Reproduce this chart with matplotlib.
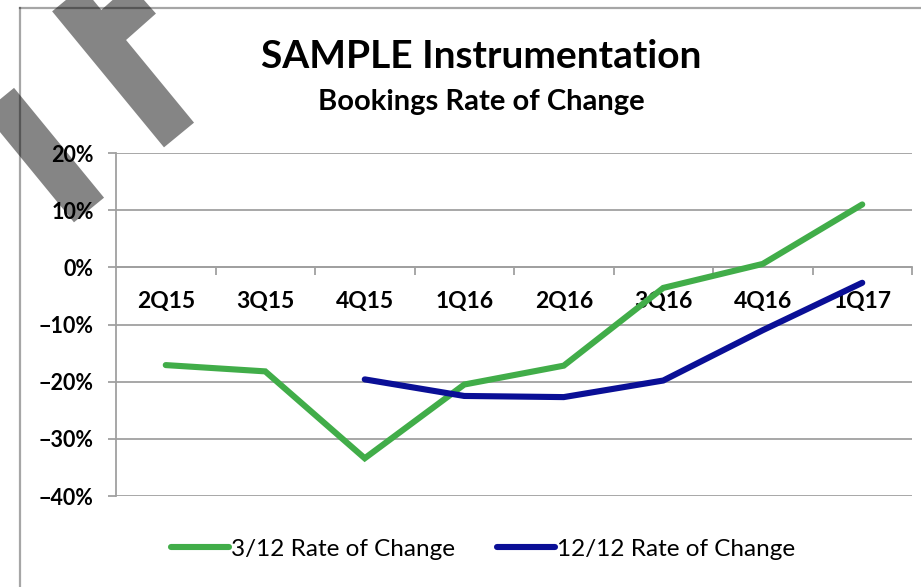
import matplotlib
matplotlib.use("Agg")
import matplotlib.pyplot as plt
import numpy as np
from matplotlib.ticker import PercentFormatter, FixedLocator
from matplotlib.lines import Line2D

categories = ["2Q15", "3Q15", "4Q15", "1Q16", "2Q16", "3Q16", "4Q16", "1Q17"]
rate_3_12 = [-17.1, -18.2, -33.4, -20.5, -17.2, -3.6, 0.6, 11.0]
rate_12_12 = [np.nan, np.nan, -19.6, -22.5, -22.7, -19.8, -11.0, -2.7]
series_names = ["3/12 Rate of Change", "12/12 Rate of Change"]
y_ticks = [-40, -30, -20, -10, 0, 10, 20]

GREEN = "#41AD49"
BLUE = "#0A0F96"
GRID = "#a0a0a0"
FONT = "Lato"

W, H = 921, 587
fig = plt.figure(figsize=(W / 100, H / 100), dpi=100)
fig.patch.set_facecolor("white")

def fx(px):
    return px / W

def fy(py):
    return 1 - py / H

# watermark strokes (opaque grey)
wm = dict(color="#858585", lw=28, solid_capstyle="butt", zorder=0)
fig.add_artist(Line2D([fx(40), fx(179)], [fy(-34), fy(135)], **wm))
fig.add_artist(Line2D([fx(99), fx(160)], [fy(38), fy(-16)], **wm))
fig.add_artist(Line2D([fx(-20), fx(89)], [fy(77), fy(210)], **wm))

# chart frame border lines (semi-transparent so they darken over the watermark)
fig.add_artist(Line2D([fx(20), fx(20)], [fy(8), fy(590)], color="black", alpha=0.35, lw=1.6, zorder=1))
fig.add_artist(Line2D([fx(20), fx(925)], [fy(8), fy(8)], color="black", alpha=0.35, lw=1.6, zorder=1))

ax = fig.add_axes([fx(116), fy(496), fx(912) - fx(116), fy(153) - fy(496)])
ax.set_facecolor("none")
x = np.arange(len(categories))
ax.plot(x, rate_3_12, color=GREEN, lw=4.4, solid_capstyle="round", solid_joinstyle="miter", zorder=3)
ax.plot(x, rate_12_12, color=BLUE, lw=4.4, solid_capstyle="round", solid_joinstyle="miter", zorder=3)

ax.set_xlim(-0.5, len(categories) - 0.5)
ax.set_ylim(-40, 20)
ax.yaxis.set_major_locator(FixedLocator(y_ticks))
ax.yaxis.set_major_formatter(PercentFormatter(decimals=0))
ax.grid(axis="y", color=GRID, lw=1.3)
ax.set_axisbelow(True)

for s in ["top", "right"]:
    ax.spines[s].set_visible(False)
ax.spines["left"].set_color(GRID)
ax.spines["left"].set_linewidth(1.3)
ax.spines["bottom"].set_position(("data", 0))
ax.spines["bottom"].set_color(GRID)
ax.spines["bottom"].set_linewidth(1.3)

ax.set_xticks(x)
ax.set_xticklabels(categories)
ax.xaxis.set_minor_locator(FixedLocator(np.arange(0.5, len(categories), 1.0)))
ax.tick_params(axis="x", which="major", length=0, pad=17)
ax.tick_params(axis="x", which="minor", length=6, width=1.3, color=GRID, direction="out")
ax.tick_params(axis="y", length=6, width=1.3, color=GRID, direction="out", pad=10)
for lbl in ax.get_xticklabels():
    lbl.set_fontfamily(FONT)
    lbl.set_fontweight("bold")
    lbl.set_fontsize(16.5)
for lbl in ax.get_yticklabels():
    lbl.set_fontfamily(FONT)
    lbl.set_fontweight("bold")
    lbl.set_fontsize(15.5)

fig.text(fx(481), fy(56), "SAMPLE Instrumentation", ha="center", va="center",
         fontfamily=FONT, fontweight="bold", fontsize=28)
fig.text(fx(481), fy(102), "Bookings Rate of Change", ha="center", va="center",
         fontfamily=FONT, fontweight="bold", fontsize=21)

handles = [Line2D([], [], color=GREEN, lw=4.4, solid_capstyle="round"),
           Line2D([], [], color=BLUE, lw=4.4, solid_capstyle="round")]
fig.legend(handles, series_names, loc="center", bbox_to_anchor=(fx(483), fy(549)),
           ncol=2, frameon=False, handlelength=2.4, handletextpad=0.1,
           columnspacing=1.7, prop={"family": FONT, "size": 17.5})

fig.savefig("out.png", dpi=100)
